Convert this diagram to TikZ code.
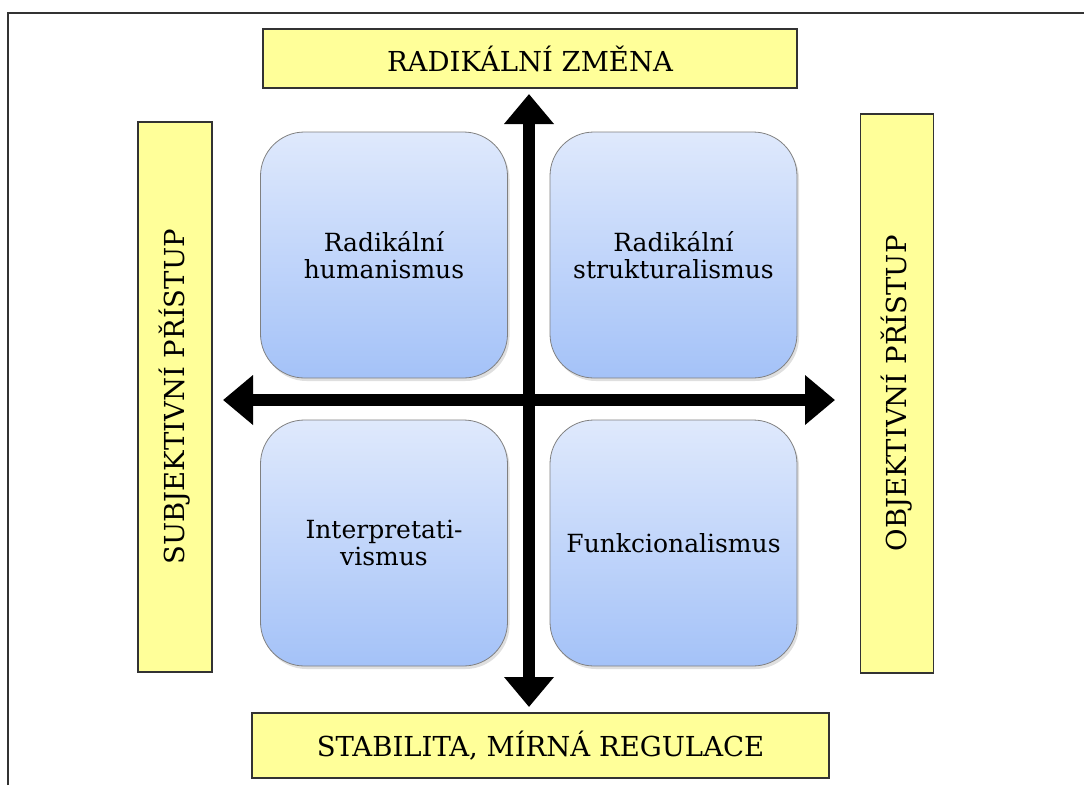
\documentclass[tikz,border=0pt]{standalone}
\usepackage{fontspec}
\setmainfont{DejaVu Serif}
\usetikzlibrary{arrows.meta,shadows}

\definecolor{axisyellow}{HTML}{FFFF99}
\definecolor{quadtop}{HTML}{DFE9FC}
\definecolor{quadbottom}{HTML}{A4C2F8}

\begin{document}
\begin{tikzpicture}[x=1pt, y=-1pt,
  axisbox/.style={draw=black!80, line width=1.3pt, fill=axisyellow, inner sep=0pt,
    font=\fontsize{27.5}{31}\selectfont},
  quadbox/.style={draw=black!50, line width=0.8pt, rounded corners=44pt,
    top color=quadtop, bottom color=quadbottom, inner sep=0pt,
    minimum width=247pt, minimum height=246pt, align=center,
    font=\fontsize{25}{27}\selectfont,
    drop shadow={shadow xshift=2pt, shadow yshift=-3pt, opacity=0.25}},
  axisarrow/.style={line width=12pt, {Triangle[width=48pt,length=30pt]}-{Triangle[width=48pt,length=30pt]}}]
\useasboundingbox (0,0) rectangle (1084,785);
\draw[black!80, line width=1.3pt] (8,785) |- (1084,13);

% axis labels
\node (change) [axisbox, minimum width=534pt, minimum height=59pt] at (530,58.5) {RADIKÁLNÍ ZMĚNA};
\node (stability) [axisbox, minimum width=577pt, minimum height=65pt] at (540.5,745.5) {STABILITA, MÍRNÁ REGULACE};
\node (subjective) [axisbox, rotate=90, minimum width=550pt, minimum height=74pt] at (175,397) {SUBJEKTIVNÍ PŘÍSTUP};
\node (objective) [axisbox, rotate=90, minimum width=559pt, minimum height=73pt] at (897,393.5) {OBJEKTIVNÍ PŘÍSTUP};

% quadrants
\node (humanism) [quadbox] at (384,255) {Radikální\\humanismus};
\node (structuralism) [quadbox] at (673.5,255) {Radikální\\strukturalismus};
\node (interpretivism) [quadbox] at (384,543) {Interpretati-\\vismus};
\node (functionalism) [quadbox] at (673.5,543) {Funkcionalismus};

% axes
\coordinate (vtop) at (529,94);
\coordinate (vbottom) at (529,707);
\coordinate (hleft) at (223,400);
\coordinate (hright) at (835,400);
\draw[axisarrow] (vbottom) -- (vtop);
\draw[axisarrow] (hleft) -- (hright);
\end{tikzpicture}
\end{document}
